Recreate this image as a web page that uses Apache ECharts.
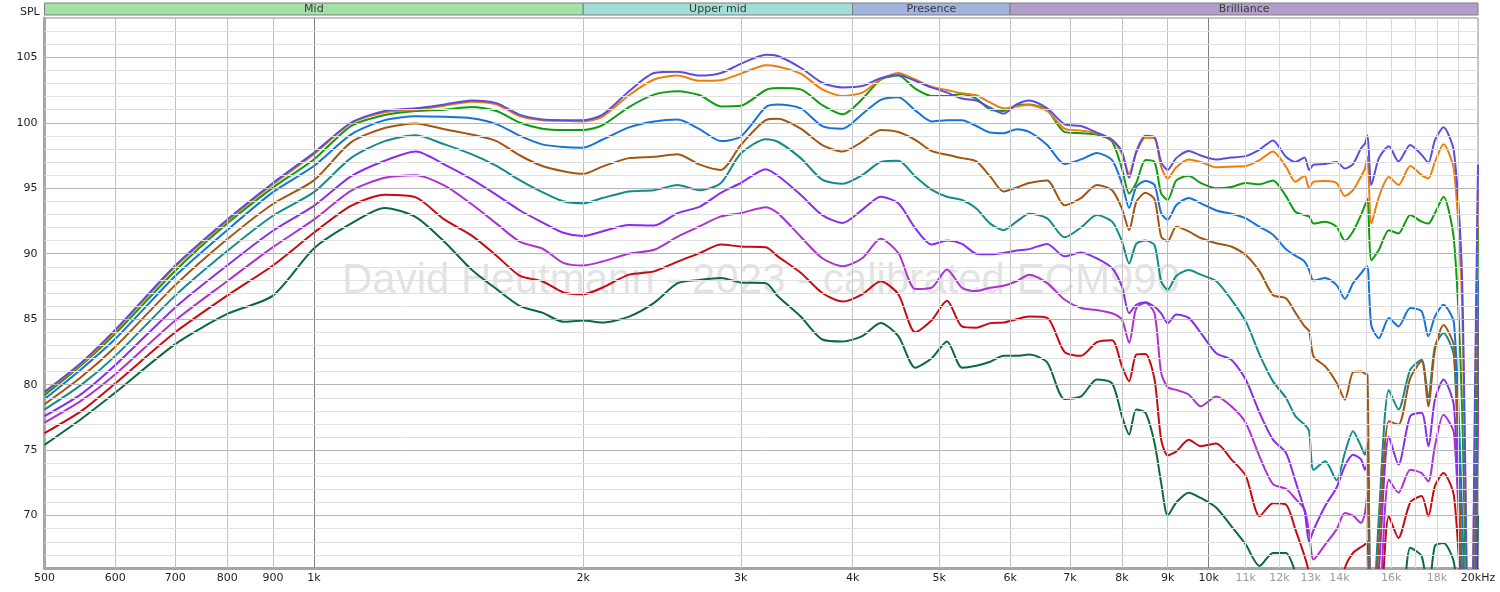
<!DOCTYPE html>
<html>
<head>
<meta charset="utf-8">
<script src="https://cdn.jsdelivr.net/npm/echarts@6/dist/echarts.min.js"></script>
<style>
  html, body { margin: 0; padding: 0; background: #fff; }
  #chart { width: 1500px; height: 592px; }
</style>
</head>
<body>
<div id="chart"></div>
<script>
// frequency points (Hz) shared by all curves
const freqs = [500, 550, 600, 700, 800, 900, 1000,
  1100, 1200, 1300, 1400, 1500, 1600, 1700, 1800, 1900, 2000,
  2100, 2250, 2400, 2550, 2700, 2850, 3000,
  3200, 3300, 3500, 3700, 3900,
  4100, 4300, 4500, 4700, 4900,
  5100, 5300, 5500, 5700, 5900,
  6100, 6300, 6600, 6900, 7200, 7500, 7800,
  8000, 8150, 8300, 8500, 8700, 8850,
  9000, 9200, 9500, 9800,
  10200, 10600, 11000, 11400, 11800,
  12200, 12500, 12800, 12950, 13100,
  13500, 13900, 14200, 14500, 14800,
  14950, 15050, 15200, 15500, 15900,
  16300, 16800, 17300, 17600, 17900,
  18300, 18800, 19200, 19600, 19850, 20000];

// SPL (dB) per curve, top to bottom
const splIndigo = [79.45, 81.7, 84.2, 89.1, 92.6, 95.4, 97.7,
  100.0, 100.9, 101.1, 101.4, 101.7, 101.5, 100.6, 100.25, 100.2, 100.2,
  100.6, 102.4, 103.8, 103.9, 103.6, 103.8, 104.5,
  105.2, 105.1, 104.2, 103.05, 102.7,
  102.8, 103.4, 103.65, 103.2, 102.7,
  102.3, 101.85, 101.7, 101.15, 100.7,
  101.4, 101.7, 101.1, 99.9, 99.75, 99.25, 98.7,
  97.8, 95.8, 97.8, 99.0, 98.9, 97.0,
  96.4, 97.3, 97.85, 97.5,
  97.2, 97.35, 97.45, 97.95, 98.65,
  97.4, 97.0, 97.35, 96.4, 96.8,
  96.85, 97.0, 96.5, 96.85, 98.05,
  98.4, 99.05, 95.25, 97.3, 98.2,
  97.05, 98.3, 97.55, 96.95, 98.65,
  99.65, 97.8, 88, 50, 80, 96.8];
const splOrange = [79.4, 81.6, 84.1, 89.0, 92.5, 95.3, 97.6,
  99.95, 100.8, 101.0, 101.3, 101.6, 101.4, 100.5, 100.2, 100.15, 100.1,
  100.45, 102.1, 103.3, 103.6, 103.2, 103.25, 103.75,
  104.4, 104.3, 103.75, 102.55, 102.05,
  102.3, 103.3, 103.8, 103.3, 102.75,
  102.5, 102.25, 102.1, 101.55, 101.1,
  101.25, 101.35, 100.9, 99.55, 99.4, 99.2, 98.65,
  97.65, 96.1, 97.7, 98.85, 98.8, 96.65,
  95.75, 96.6, 97.2, 97.0,
  96.6, 96.65, 96.7, 97.15, 97.8,
  96.65, 95.5, 95.95, 95.0, 95.5,
  95.55, 95.4, 94.4, 94.85, 95.9,
  96.5, 97.4, 92.3, 94.35, 95.85,
  95.25, 96.7, 96.0, 95.75, 97.0,
  98.35, 96.4, 86, 50, 78, 95.0];
const splGreen = [79.2, 81.5, 83.9, 88.7, 92.3, 95.05, 97.2,
  99.75, 100.6, 100.9, 101.0, 101.2, 100.9, 100.0, 99.55, 99.45, 99.45,
  99.8, 101.2, 102.15, 102.4, 102.1, 101.25, 101.3,
  102.5, 102.65, 102.55, 101.35, 100.65,
  101.8, 103.3, 103.6, 102.6, 102.05,
  102.05, 102.2, 101.85, 101.0, 100.9,
  101.35, 101.4, 100.95, 99.3, 99.2, 99.1, 98.55,
  96.5, 94.6, 95.4, 97.15, 97.0, 94.6,
  94.1, 95.6, 95.95, 95.4,
  95.0, 95.1, 95.4, 95.3, 95.6,
  94.4, 93.2, 92.95, 92.85, 92.3,
  92.45, 92.05, 91.0, 91.7, 92.95,
  93.7, 94.2, 89.5, 90.3, 91.8,
  91.55, 92.95, 92.45, 92.3, 93.1,
  94.35, 91.05, 78, 50, 72, 92.0];
const splBlue = [78.9, 81.2, 83.5, 88.3, 91.8, 94.7, 96.7,
  99.1, 100.2, 100.5, 100.45, 100.35, 99.9, 99.0, 98.35, 98.15, 98.1,
  98.7, 99.65, 100.1, 100.25, 99.5, 98.6, 98.95,
  101.2, 101.4, 101.1, 99.75, 99.55,
  100.65, 101.75, 101.95, 100.95, 100.1,
  100.2, 100.2, 99.75, 99.25, 99.2,
  99.5, 99.3, 98.3, 96.85, 97.2, 97.7, 97.15,
  95.35, 93.5, 95.1, 95.55, 95.25, 93.1,
  92.6, 93.7, 94.25, 93.85,
  93.3, 93.05, 92.7, 92.05, 91.45,
  90.35, 89.85, 89.4, 88.75, 87.95,
  88.15, 87.6, 86.55, 87.75, 88.5,
  88.9, 89.05, 84.5, 83.55, 85.1,
  84.45, 85.85, 85.6, 83.7, 85.2,
  86.1, 84.7, 70, 50, 70, 88];
const splBrown = [78.5, 80.6, 82.9, 87.6, 91.1, 93.8, 95.6,
  98.5, 99.6, 99.95, 99.5, 99.1, 98.6, 97.5, 96.7, 96.3, 96.1,
  96.65, 97.3, 97.4, 97.6, 96.8, 96.4, 98.3,
  100.2, 100.3, 99.55, 98.3, 97.8,
  98.55, 99.45, 99.3, 98.7, 97.85,
  97.55, 97.3, 97.05, 95.9, 94.75,
  95.05, 95.4, 95.6, 93.7, 94.25, 95.25, 94.85,
  93.45, 91.8, 93.95, 94.65, 94.15, 91.3,
  90.95, 92.05, 91.7, 91.2,
  90.8, 90.55, 89.9, 88.65, 86.85,
  86.6, 85.5, 84.45, 84.1, 82.15,
  81.4, 80.15, 78.85, 80.95, 81.0,
  80.85, 80.75, 60, 68, 77.2,
  76.95, 80.5, 81.8, 78.35, 82.65,
  84.55, 82.9, 65, 50, 68, 86];
const splTeal = [78.1, 80.0, 82.2, 86.8, 90.2, 92.9, 94.7,
  97.3, 98.6, 99.05, 98.35, 97.6, 96.7, 95.6, 94.7, 94.0, 93.85,
  94.25, 94.75, 94.85, 95.25, 94.85, 95.4, 97.65,
  98.75, 98.55, 97.3, 95.65, 95.35,
  96.0, 97.0, 97.1, 95.9, 94.9,
  94.35, 94.1, 93.45, 92.3, 91.8,
  92.45, 93.05, 92.7, 91.25, 92.0, 92.95, 92.45,
  90.95, 89.25, 90.75, 91.0, 90.65, 87.9,
  87.25, 88.3, 88.75, 88.4,
  87.9, 86.5, 84.85, 82.3, 80.25,
  79.0, 77.6, 76.95, 76.45, 73.5,
  74.15, 72.7, 74.8, 76.45, 75.3,
  74.65, 75.55, 60, 70, 79.6,
  78.1, 81.15, 81.9, 79.0, 82.9,
  83.95, 82.15, 65, 50, 66, 84];
const splViolet = [77.6, 79.3, 81.5, 85.9, 89.1, 91.75, 93.65,
  95.9, 97.1, 97.8, 96.8, 95.7, 94.5, 93.3, 92.4, 91.6, 91.35,
  91.7, 92.2, 92.15, 93.1, 93.6, 94.65, 95.4,
  96.45, 95.95, 94.5, 92.95, 92.35,
  93.35, 94.35, 93.85, 91.95, 90.7,
  91.0, 90.75, 90.0, 89.95, 90.05,
  90.25, 90.35, 90.75, 89.8, 90.1, 89.65, 88.9,
  87.5, 85.45, 86.1, 86.3, 85.95, 85.45,
  84.7, 85.35, 85.1, 83.95,
  82.4, 81.9, 80.4, 77.85, 75.8,
  74.8, 72.65, 70.35, 68.0, 68.9,
  70.75, 72.15, 73.8, 74.65, 74.3,
  73.5, 74.05, 60, 66, 76.05,
  73.9, 77.6, 77.85, 75.3, 78.85,
  80.4, 78.35, 64, 50, 64, 82];
const splMagenta = [77.1, 78.8, 80.8, 84.9, 87.9, 90.5, 92.6,
  94.8, 95.8, 96.0, 95.2, 93.8, 92.3, 90.9, 90.4, 89.3, 89.1,
  89.4, 90.0, 90.3, 91.3, 92.1, 92.85, 93.1,
  93.55, 93.1, 91.3, 89.65, 89.05,
  89.65, 91.15, 90.05, 87.3, 87.4,
  88.8, 87.4, 87.15, 87.4, 87.55,
  87.9, 88.4, 87.75, 86.5, 85.85, 85.7, 85.45,
  84.95, 83.2, 85.85, 86.25, 85.45, 80.9,
  79.8, 79.6, 79.25, 78.35,
  79.1, 78.35, 77.1, 74.5, 72.4,
  72.05, 71.3, 70.45, 68.7, 66.65,
  67.8, 68.95, 70.2, 70.0, 69.45,
  70.2, 71.75, 58, 62, 72.75,
  71.75, 73.5, 73.25, 72.6, 75.3,
  77.7, 76.3, 63, 50, 62, 78];
const splRed = [76.3, 78.0, 80.1, 84.0, 86.8, 89.1, 91.6,
  93.65, 94.5, 94.3, 92.6, 91.4, 89.85, 88.3, 87.9, 87.05, 86.9,
  87.4, 88.4, 88.65, 89.4, 90.05, 90.7, 90.55,
  90.5, 89.8, 88.55, 87.0, 86.35,
  86.9, 87.9, 86.9, 84.0, 84.9,
  86.4, 84.45, 84.35, 84.7, 84.75,
  85.0, 85.2, 85.1, 82.5, 82.2, 83.25, 83.4,
  81.4, 80.25, 82.3, 82.35, 80.4, 75.8,
  74.6, 74.9, 75.8, 75.3,
  75.5, 74.3, 73.05, 69.95, 70.95,
  70.85, 68.95, 66.9, 65.65, 64,
  62, 63, 66.0, 67.15, 67.6,
  67.8, 68.0, 58, 60, 69.95,
  68.3, 71.0, 71.5, 69.95, 72.25,
  73.25, 71.5, 62, 50, 63, 80];
const splDarkGreen = [75.4, 77.4, 79.4, 83.1, 85.4, 86.8, 90.4,
  92.3, 93.5, 92.8, 90.9, 88.8, 87.3, 86.0, 85.5, 84.8, 84.9,
  84.75, 85.2, 86.25, 87.75, 88.0, 88.15, 87.8,
  87.75, 86.75, 85.2, 83.45, 83.3,
  83.7, 84.7, 83.7, 81.3, 82.0,
  83.3, 81.3, 81.45, 81.75, 82.2,
  82.2, 82.3, 81.7, 78.9, 79.1, 80.4, 80.1,
  77.6, 76.2, 78.1, 77.85, 75.55, 72.5,
  70.0, 71.0, 71.75, 71.35,
  70.6, 69.2, 67.8, 66.15, 67.15,
  67.15, 65.65, 63, 62, 61,
  60, 60, 60, 60, 60,
  60, 60, 58, 58, 62,
  60, 67.55, 66.9, 64, 67.7,
  67.9, 66.4, 60, 50, 58, 70];

const curves = [splIndigo, splOrange, splGreen, splBlue, splBrown,
  splTeal, splViolet, splMagenta, splRed, splDarkGreen];
const curveColors = ['#5a4ede', '#f07c0a', '#0e9c10', '#1772d9', '#a4550f',
  '#138b8a', '#8a2cf0', '#ae32d2', '#c70a12', '#0b6a3b'];

// x grid / tick frequencies and their labels ('' = line without label)
const xTicks = [500, 600, 700, 800, 900, 1000, 2000, 3000, 4000, 5000, 6000, 7000,
  8000, 9000, 10000, 11000, 12000, 13000, 14000, 15000, 16000, 17000, 18000, 19000, 20000];
const xTickLabels = ['500', '600', '700', '800', '900', '1k', '2k', '3k', '4k', '5k', '6k', '7k',
  '8k', '9k', '10k', '11k', '12k', '13k', '14k', '', '16k', '', '18k', '', '20kHz'];

// frequency bands drawn above the plot
const bandNames = ['Mid', 'Upper mid', 'Presence', 'Brilliance'];
const bandEdges = [500, 2000, 4000, 6000, 20000];
const bandColors = ['#a2e2a9', '#a2ded6', '#a2b4de', '#b19ec9'];

const yMin = 66, yMax = 108;

const chart = echarts.init(document.getElementById('chart'), null, { renderer: 'canvas' });

const vLines = xTicks.map((f, i) => {
  let color = '#c2c2c2';
  if (f === 1000 || f === 10000) color = '#808080';
  else if (f > 10000) color = '#d8d8d8';
  const edge = (f === 500 || f === 20000);
  return {
    name: xTickLabels[i],
    xAxis: f,
    lineStyle: { color: edge ? 'rgba(0,0,0,0)' : color, width: 1, type: 'solid' },
    label: {
      show: xTickLabels[i] !== '',
      color: (f > 10000 && f < 20000) ? '#9b9b9b' : '#1e1e1e'
    }
  };
});

const hLines = [];
for (let v = yMin + 1; v < yMax; v++) {
  hLines.push({
    yAxis: v,
    label: { show: false },
    lineStyle: { color: v % 5 === 0 ? '#b6b6b6' : '#e0e0e0', width: 1, type: 'solid' }
  });
}

const bandAreas = bandNames.map((n, i) => [
  { name: n, xAxis: bandEdges[i], itemStyle: { color: bandColors[i] } },
  { xAxis: bandEdges[i + 1] }
]);

const lineSeries = curves.map((vals, k) => ({
  type: 'line',
  name: 'curve' + (k + 1),
  xAxisIndex: 0,
  yAxisIndex: 0,
  data: freqs.map((f, i) => [f, vals[i]]),
  showSymbol: false,
  smooth: 0.25,
  clip: true,
  z: 3 + (curves.length - k) * 0.01,
  lineStyle: { color: curveColors[k], width: 2 },
  itemStyle: { color: curveColors[k] }
}));

const option = {
  animation: false,
  backgroundColor: '#ffffff',
  textStyle: { fontFamily: 'DejaVu Sans' },
  title: {
    text: 'SPL',
    left: 15,
    top: 2,
    textStyle: { fontSize: 11, fontWeight: 'normal', color: '#1e1e1e', fontFamily: 'DejaVu Sans' }
  },
  graphic: [{
    type: 'text',
    x: 761,
    y: 281,
    z: 0,
    silent: true,
    style: {
      text: 'David Heutmann - 2023 - calibrated ECM990',
      fill: '#e3e3e3',
      font: '42px "Liberation Sans", Arial, sans-serif',
      align: 'center',
      verticalAlign: 'middle',
      textAlign: 'center',
      textVerticalAlign: 'middle'
    }
  }],
  grid: [
    { left: 44.5, right: 22, top: 18, bottom: 24, show: true,
      borderColor: '#8a8a8a', borderWidth: 1, backgroundColor: 'transparent' },
    { left: 44.5, right: 22, top: 3, height: 12, show: false }
  ],
  xAxis: [
    { type: 'log', logBase: 10, min: 500, max: 20000, gridIndex: 0,
      axisLine: { show: true, lineStyle: { color: '#a6a6a6', width: 3 } },
      axisTick: { show: false }, axisLabel: { show: false }, splitLine: { show: false } },
    { type: 'log', logBase: 10, min: 500, max: 20000, gridIndex: 1, show: false }
  ],
  yAxis: [
    { type: 'value', min: yMin, max: yMax, interval: 1, gridIndex: 0,
      axisLine: { show: true, lineStyle: { color: '#a6a6a6', width: 3 } },
      axisTick: { show: false },
      splitLine: { show: false },
      axisLabel: {
        margin: 7,
        color: '#1e1e1e',
        fontSize: 11,
        fontFamily: 'DejaVu Sans',
        formatter: v => (v % 5 === 0 ? String(v) : '')
      } },
    { type: 'value', min: 0, max: 1, gridIndex: 1, show: false }
  ],
  series: [
    {
      type: 'line',
      name: 'grid',
      xAxisIndex: 0,
      yAxisIndex: 0,
      data: [],
      z: 1,
      silent: true,
      markLine: {
        silent: true,
        symbol: ['none', 'none'],
        animation: false,
        label: { position: 'start', distance: 5, formatter: '{b}', fontSize: 11,
          fontFamily: 'DejaVu Sans' },
        emphasis: { disabled: true },
        data: vLines.concat(hLines)
      }
    },
    {
      type: 'line',
      name: 'bands',
      xAxisIndex: 1,
      yAxisIndex: 1,
      data: [],
      silent: true,
      markArea: {
        silent: true,
        label: { show: true, position: 'inside', color: '#3a3a3a', fontSize: 11,
          fontFamily: 'DejaVu Sans' },
        itemStyle: { borderColor: '#7e7e7e', borderWidth: 1 },
        emphasis: { disabled: true },
        data: bandAreas
      }
    }
  ].concat(lineSeries)
};

chart.setOption(option);
</script>
</body>
</html>
